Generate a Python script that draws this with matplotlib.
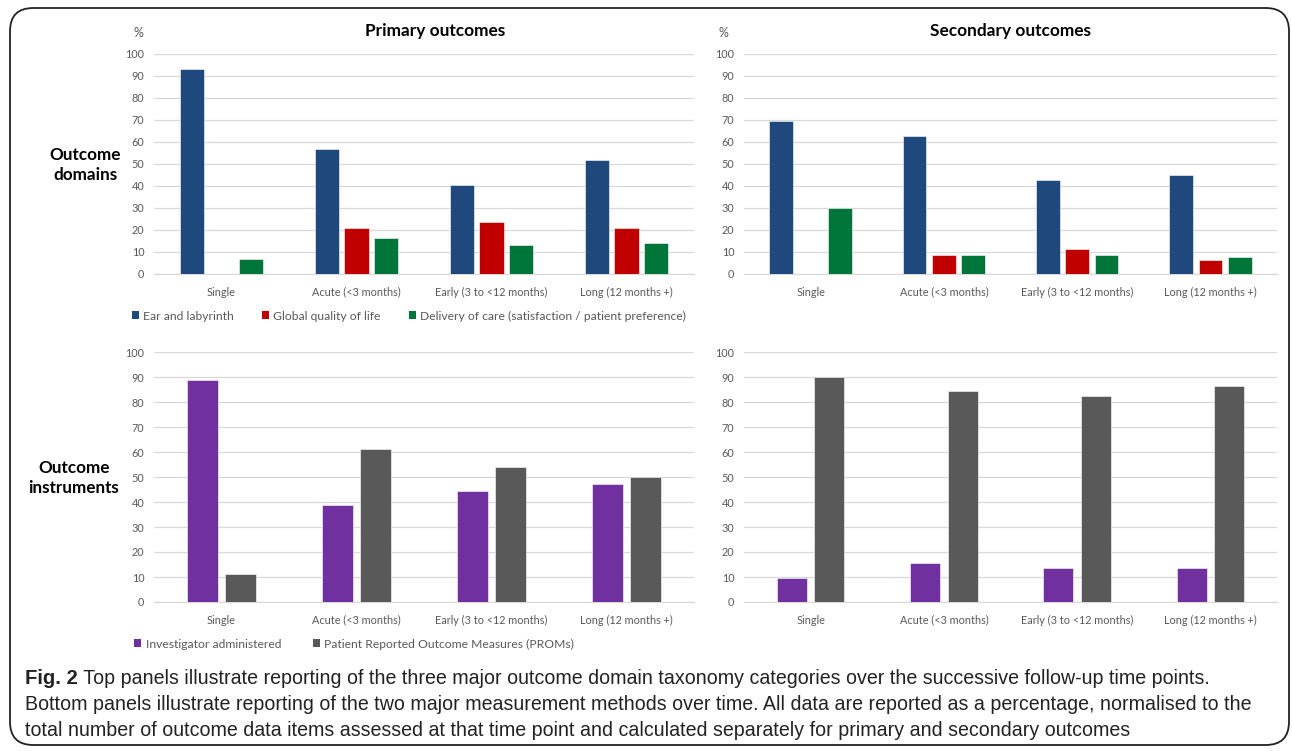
import matplotlib
matplotlib.use('Agg')
import matplotlib.pyplot as plt
from matplotlib.patches import Patch, FancyBboxPatch
from matplotlib import font_manager
import numpy as np

# ---------------- data ----------------
categories = ["Single", "Acute (<3 months)", "Early (3 to <12 months)", "Long (12 months +)"]
y_ticks = list(range(0, 101, 10))

domain_series = ["Ear and labyrinth", "Global quality of life",
                 "Delivery of care (satisfaction / patient preference)"]
primary_ear = [93.0, 57.0, 40.3, 51.8]
primary_qol = [0.0, 21.1, 23.6, 20.8]
primary_care = [6.8, 16.4, 13.2, 14.1]
secondary_ear = [69.7, 62.9, 42.8, 44.9]
secondary_qol = [0.0, 8.6, 11.3, 6.2]
secondary_care = [29.8, 8.6, 8.6, 7.6]

instrument_series = ["Investigator administered", "Patient Reported Outcome Measures (PROMs)"]
primary_inv = [88.7, 38.9, 44.5, 47.1]
primary_prom = [11.3, 61.1, 53.9, 50.1]
secondary_inv = [9.7, 15.8, 13.8, 13.6]
secondary_prom = [89.9, 84.3, 82.6, 86.3]

domain_colors = ["#1F497D", "#C00000", "#00753A"]
instrument_colors = ["#7030A0", "#595959"]

# ---------------- fonts ----------------
def has_font(name):
    try:
        font_manager.findfont(name, fallback_to_default=False)
        return True
    except Exception:
        return False

chart_font = "Lato" if has_font("Lato") else "DejaVu Sans"
cap_font = "Liberation Sans Narrow" if has_font("Liberation Sans Narrow") else "Liberation Sans"
plt.rcParams['font.family'] = [chart_font, 'DejaVu Sans']

W, H = 1292, 751
fig = plt.figure(figsize=(W / 100, H / 100), dpi=100)
fig.patch.set_facecolor('white')

TXT = "#595959"
GRID = "#D9D9D9"


def px_axes(x0, x1, y_top, y_bot):
    return fig.add_axes([x0 / W, 1 - y_bot / H, (x1 - x0) / W, (y_bot - y_top) / H])


def style(ax):
    ax.set_xlim(-0.5, 3.5)
    ax.set_ylim(0, 100)
    ax.set_yticks(y_ticks)
    ax.set_xticks(range(len(categories)))
    ax.set_xticklabels(categories)
    ax.grid(axis='y', color=GRID, lw=0.9)
    ax.set_axisbelow(True)
    for s in ['top', 'right', 'left']:
        ax.spines[s].set_visible(False)
    ax.spines['bottom'].set_color(GRID)
    ax.spines['bottom'].set_linewidth(0.9)
    ax.tick_params(axis='both', length=0, colors=TXT, labelsize=7.8)
    ax.tick_params(axis='y', pad=7)
    ax.tick_params(axis='x', pad=9)
    ax.set_facecolor('none')


def draw_bars(ax, series_vals, colors, width, step):
    n = len(series_vals)
    x = np.arange(len(categories))
    offsets = (np.arange(n) - (n - 1) / 2) * step
    for vals, col, off in zip(series_vals, colors, offsets):
        v = np.array(vals)
        mask = v > 0
        ax.bar(x[mask] + off, v[mask], width=width, color=col,
               edgecolor='white', linewidth=0.4, zorder=3)


# top panels
ax1 = px_axes(154, 694, 54, 274)
style(ax1)
draw_bars(ax1, [primary_ear, primary_qol, primary_care], domain_colors, 0.178, 0.22)

ax2 = px_axes(744, 1277, 54, 274)
style(ax2)
draw_bars(ax2, [secondary_ear, secondary_qol, secondary_care], domain_colors, 0.178, 0.22)

# bottom panels
ax3 = px_axes(154, 694, 352, 602)
style(ax3)
draw_bars(ax3, [primary_inv, primary_prom], instrument_colors, 0.225, 0.283)

ax4 = px_axes(744, 1277, 352, 602)
style(ax4)
draw_bars(ax4, [secondary_inv, secondary_prom], instrument_colors, 0.225, 0.283)

# titles and % signs
fig.text(435 / W, 1 - 31 / H, "Primary outcomes", ha='center', va='center',
         fontsize=12.4, fontweight='bold', color='black')
fig.text(1011 / W, 1 - 31 / H, "Secondary outcomes", ha='center', va='center',
         fontsize=12.4, fontweight='bold', color='black')
fig.text(138 / W, 1 - 33 / H, "%", ha='center', va='center', fontsize=9, color=TXT)
fig.text(723 / W, 1 - 33 / H, "%", ha='center', va='center', fontsize=9, color=TXT)

# row labels
fig.text(85 / W, 1 - 165 / H, "Outcome\ndomains", ha='center', va='center',
         fontsize=12.3, fontweight='bold', color='black', linespacing=1.25)
fig.text(74 / W, 1 - 478 / H, "Outcome\ninstruments", ha='center', va='center',
         fontsize=12.3, fontweight='bold', color='black', linespacing=1.25)

# legends
h1 = [Patch(facecolor=c, edgecolor='none') for c in domain_colors]
fig.legend(h1, domain_series, loc='center', bbox_to_anchor=(409 / W, 1 - 316 / H),
           ncol=3, frameon=False, fontsize=8.7, labelcolor=TXT,
           handlelength=0.6, handleheight=0.6, handletextpad=0.35, columnspacing=2.3)
h2 = [Patch(facecolor=c, edgecolor='none') for c in instrument_colors]
fig.legend(h2, instrument_series, loc='center', bbox_to_anchor=(354 / W, 1 - 644 / H),
           ncol=2, frameon=False, fontsize=8.7, labelcolor=TXT,
           handlelength=0.6, handleheight=0.6, handletextpad=0.35, columnspacing=2.6)

# border
box = FancyBboxPatch((10 / W, 1 - 745 / H), (1289 - 10) / W, (745 - 8) / H,
                     boxstyle="round,pad=0,rounding_size=0.018",
                     transform=fig.transFigure, fill=False, edgecolor='#222222', lw=1.3,
                     mutation_aspect=W / H)
fig.patches.append(box)

# caption
cap_l1 = " Top panels illustrate reporting of the three major outcome domain taxonomy categories over the successive follow-up time points."
cap_l2 = "Bottom panels illustrate reporting of the two major measurement methods over time. All data are reported as a percentage, normalised to the"
cap_l3 = "total number of outcome data items assessed at that time point and calculated separately for primary and secondary outcomes"

renderer = fig.canvas.get_renderer()
t2 = fig.text(25 / W, 1 - 705 / H, cap_l2, ha='left', va='center', fontsize=14,
              family=[cap_font, 'DejaVu Sans'], color='#222222')
w2 = t2.get_window_extent(renderer).width
fs = 14 * (1230 / w2)
t2.set_fontsize(fs)
figlab = fig.text(25 / W, 1 - 678 / H, "Fig. 2", ha='left', va='center', fontsize=fs * 1.03,
                  fontweight='bold', family=[cap_font, 'DejaVu Sans'], color='#222222')
bb = figlab.get_window_extent(renderer)
fig.text(bb.x1 / W, 1 - 678 / H, cap_l1, ha='left', va='center', fontsize=fs,
         family=[cap_font, 'DejaVu Sans'], color='#222222')
fig.text(25 / W, 1 - 731 / H, cap_l3, ha='left', va='center', fontsize=fs,
         family=[cap_font, 'DejaVu Sans'], color='#222222')

fig.savefig("out.png", dpi=100, facecolor='white')
